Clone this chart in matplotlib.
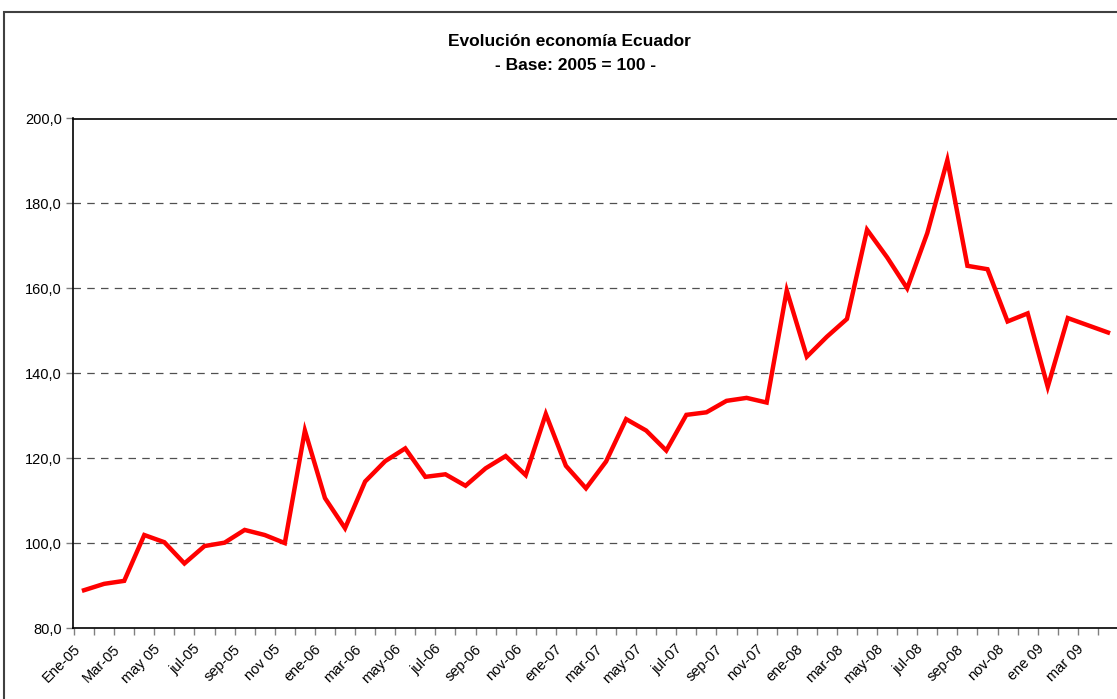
import numpy as np
import matplotlib
matplotlib.use("Agg")
from matplotlib import pyplot as plt
from matplotlib.patches import Rectangle

plt.rcParams['font.family'] = ['Liberation Sans', 'DejaVu Sans']

# monthly index, Jan 2005 .. Apr 2009 (base 2005 = 100)
values = [88.9, 90.4, 91.1, 101.9, 100.2, 95.2, 99.3, 100.1, 103.1, 101.9, 100.0, 126.5,
          110.6, 103.5, 114.5, 119.3, 122.3, 115.6, 116.2, 113.5, 117.6, 120.5, 116.0, 130.4,
          118.2, 112.9, 119.2, 129.2, 126.5, 121.8, 130.2, 130.8, 133.5, 134.2, 133.1, 159.5,
          143.9, 148.6, 152.8, 173.8, 167.3, 160.0, 173.0, 190.2, 165.3, 164.5, 152.2, 154.1,
          136.8, 153.0, 151.3, 149.6]

tick_labels = ["Ene-05", "Mar-05", "may 05", "jul-05", "sep-05", "nov 05",
               "ene-06", "mar-06", "may-06", "jul-06", "sep-06", "nov-06",
               "ene-07", "mar-07", "may-07", "jul-07", "sep-07", "nov-07",
               "ene-08", "mar-08", "may-08", "jul-08", "sep-08", "nov-08",
               "ene 09", "mar 09"]

y_ticks = [80, 100, 120, 140, 160, 180, 200]

W, H = 1117, 699
fig = plt.figure(figsize=(W / 100, H / 100), dpi=100)

# outer chart frame (runs off the right/bottom edge like the source)
fig.patches.append(Rectangle((4 / W, -0.1), 1.2, 1 - 12 / H + 0.1,
                             transform=fig.transFigure, fill=False,
                             edgecolor='#404040', linewidth=1.5))

ax = fig.add_axes([73 / W, 1 - 628 / H, (1118 - 73) / W, (628 - 118.5) / H])

x = np.arange(len(values))
ax.plot(x, values, color='#ff0000', linewidth=3.2, solid_joinstyle='miter', zorder=3)

ax.set_xlim(-0.5, len(values) - 0.5)
ax.set_ylim(80, 200)

ax.set_yticks(y_ticks)
ax.set_yticklabels([f"{v:.1f}".replace('.', ',') for v in y_ticks], fontsize=10.5)
for v in y_ticks[1:-1]:
    ax.axhline(v, color='#505050', linewidth=0.9, linestyle=(0, (6, 5)), zorder=1)

# category boundaries get the ticks, every other month gets a label;
# excel ends each rotated label a bit left of the category centre
ax.set_xticks(np.arange(-0.5, len(values)), minor=True)
ax.set_xticks(np.arange(0, 2 * len(tick_labels), 2) - 0.55)
ax.set_xticklabels(tick_labels, rotation=45, ha='right', va='top',
                   rotation_mode='anchor', fontsize=10.5)
ax.tick_params(axis='x', which='major', length=0, pad=10)
ax.tick_params(axis='x', which='minor', length=5, width=1, color='#808080', direction='out')
ax.tick_params(axis='y', length=5, width=1, color='#808080', direction='out', pad=3)

for s in ax.spines.values():
    s.set_color('black')
    s.set_linewidth(1.2)

fig.text(569 / W, 1 - 42 / H, "Evolución economía Ecuador", ha='center', va='center',
         fontsize=12.5, fontweight='bold')
fig.text(576 / W, 1 - 66 / H, "- Base: 2005 = 100 -", ha='center', va='center',
         fontsize=12.5, fontweight='bold')

fig.savefig("out.png", dpi=100)
